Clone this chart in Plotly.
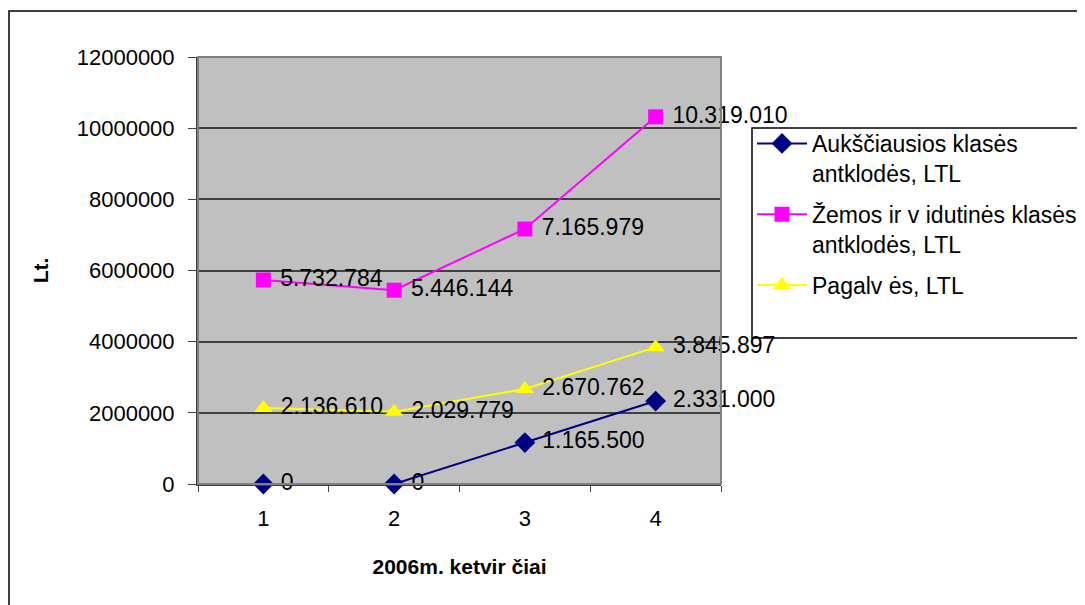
import plotly.graph_objects as go

quarters = ["1", "2", "3", "4"]
auksciausios = [0, 0, 1165500, 2331000]
zemos = [5732784, 5446144, 7165979, 10319010]
pagalves = [2136610, 2029779, 2670762, 3845897]

names = ["Aukščiausios klasės<br>antklodės, LTL",
         "Žemos ir v idutinės klasės<br>antklodės, LTL",
         "Pagalv ės, LTL"]
colors = ["#000080", "#FF00FF", "#FFFF00"]
symbols = ["diamond", "square", "triangle-up"]
sizes = [16, 15, 16]
series = [auksciausios, zemos, pagalves]

FONT = "Liberation Sans, Arial, sans-serif"

# The page body has an 8px default margin; compensate so the plot lands where it should.
OFF = 8
L, T = 198 - OFF, 57 - OFF
PW, PH = 523, 427
W, H = 1085, 605


def px_x(x):
    return (x - 198) / PW


def px_y(y):
    return (484 - y) / PH


fig = go.Figure()
for i, (nm, vals) in enumerate(zip(names, series)):
    fig.add_trace(go.Scatter(
        x=quarters, y=vals, name=nm, legendgroup=f"g{i}",
        mode="lines+markers+text",
        line=dict(color=colors[i], width=2),
        marker=dict(symbol=symbols[i], size=sizes[i], color=colors[i]),
        texttemplate=" %{y:,}", textposition="middle right",
        textfont=dict(family=FONT, size=23, color="black"),
        cliponaxis=False,
    ))

fig.update_layout(
    width=W, height=H,
    margin=dict(l=L, r=W - L - PW, t=T, b=H - T - PH, autoexpand=False),
    paper_bgcolor="white", plot_bgcolor="#C0C0C0",
    separators=",.",
    font=dict(family=FONT, size=22, color="black"),
    showlegend=True,
    legend=dict(
        x=px_x(752), y=px_y(122), xanchor="left", yanchor="top",
        bgcolor="rgba(0,0,0,0)", borderwidth=0,
        font=dict(family=FONT, size=23, color="black"),
        valign="top", traceorder="grouped", tracegroupgap=8,
        itemwidth=50,
    ),
    xaxis=dict(
        type="category", tickson="boundaries", ticks="outside", ticklen=6,
        tickcolor="#404040", showline=True, linecolor="#404040", linewidth=2,
        mirror=False, showgrid=False, ticklabelstandoff=14,
        tickfont=dict(family=FONT, size=22),
        title=dict(text="<b>2006m. ketvir čiai</b>", standoff=29,
                   font=dict(family=FONT, size=21)),
        range=[-0.5, 3.5], automargin=False,
    ),
    yaxis=dict(
        range=[0, 12000000], dtick=2000000, tickformat="d",
        ticks="outside", ticklen=8, tickcolor="#404040",
        showline=True, linecolor="#404040", linewidth=2,
        showgrid=True, gridcolor="#404040", gridwidth=1.5,
        zeroline=False, ticklabelstandoff=9,
        tickfont=dict(family=FONT, size=22),
        title=dict(text="<b>Lt.</b>", standoff=22,
                   font=dict(family=FONT, size=21)),
        automargin=False,
    ),
    shapes=[
        # outer chart border
        dict(type="rect", xref="paper", yref="paper",
             x0=px_x(9), y0=-0.5, x1=1.8, y1=px_y(11),
             line=dict(color="black", width=1.5), layer="below"),
        # legend box
        dict(type="rect", xref="paper", yref="paper",
             x0=px_x(752), y0=px_y(338), x1=1.8, y1=px_y(128),
             fillcolor="white", line=dict(color="black", width=1.5),
             layer="below"),
        # plot area border (top/right)
        dict(type="rect", xref="paper", yref="paper", x0=0, y0=0, x1=1, y1=1,
             line=dict(color="#808080", width=2), layer="above"),
    ],
)

fig.write_html("out.html")
